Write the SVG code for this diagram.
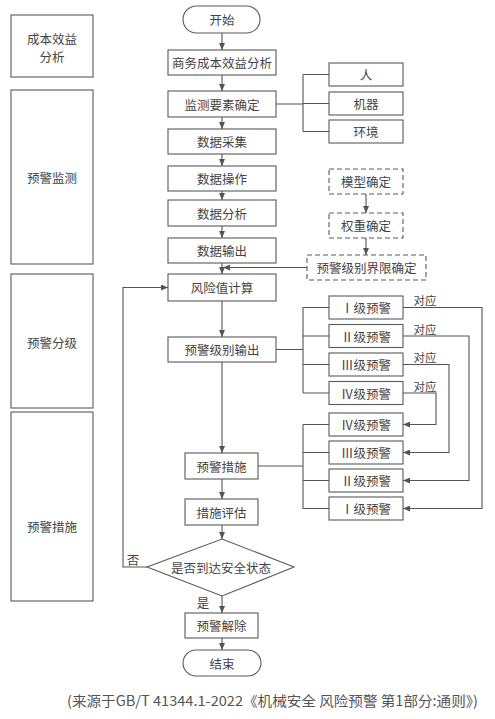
<svg xmlns="http://www.w3.org/2000/svg" width="495" height="719" viewBox="0 0 495 719">
<defs>
<marker id="arr" markerUnits="userSpaceOnUse" markerWidth="8" markerHeight="6" refX="7" refY="3" orient="auto">
<path d="M0,0 L7,3 L0,6 Z" fill="#555"/>
</marker>
<style>
rect, polygon { fill: #fff; stroke: #5a5a5a; stroke-width: 1.1; }
.dash { stroke-dasharray: 5 3; }
text { font-family: "Noto Sans CJK SC", "Noto Sans", sans-serif; font-size: 12.5px; fill: #444; text-anchor: middle; dominant-baseline: central; }
.small { font-size: 11.5px; }
.cap { font-size: 14px; text-anchor: start; fill: #555; }
#connectors path, #connectors line { fill: none; stroke: #555; stroke-width: 1.1; }
.a { marker-end: url(#arr); }
</style>
</defs>
<rect x="0" y="0" width="495" height="719" style="fill:#fff;stroke:none"/>

<g id="stage-cost"><rect x="11" y="15" width="82" height="62"/><text x="52" y="38">成本效益</text><text x="52" y="56">分析</text></g>
<g id="stage-monitor"><rect x="11" y="90" width="82" height="174"/><text x="52" y="177">预警监测</text></g>
<g id="stage-grade"><rect x="11" y="274" width="82" height="134"/><text x="52" y="342">预警分级</text></g>
<g id="stage-measure"><rect x="11" y="412" width="82" height="189"/><text x="52" y="526">预警措施</text></g>

<g id="start"><rect x="183" y="6" width="77" height="27" rx="13.5"/><text x="222" y="19.5">开始</text></g>
<g id="cba"><rect x="168" y="50" width="108" height="25"/><text x="222" y="62.5">商务成本效益分析</text></g>
<g id="elements"><rect x="168" y="91" width="108" height="26"/><text x="222" y="104">监测要素确定</text></g>
<g id="person"><rect x="329" y="63" width="74" height="23"/><text x="366" y="74.5">人</text></g>
<g id="machine"><rect x="329" y="92" width="74" height="23"/><text x="366" y="103.5">机器</text></g>
<g id="env"><rect x="329" y="120" width="74" height="23"/><text x="366" y="131.5">环境</text></g>
<g id="collect"><rect x="168" y="129" width="108" height="25"/><text x="222" y="141.5">数据采集</text></g>
<g id="operate"><rect x="168" y="166" width="108" height="25"/><text x="222" y="178.5">数据操作</text></g>
<g id="analyze"><rect x="168" y="200" width="108" height="26"/><text x="222" y="213">数据分析</text></g>
<g id="output"><rect x="168" y="238" width="108" height="25"/><text x="222" y="250.5">数据输出</text></g>
<g id="model"><rect class="dash" x="329" y="169" width="74" height="25"/><text x="366" y="181.5">模型确定</text></g>
<g id="weight"><rect class="dash" x="329" y="213" width="74" height="25"/><text x="366" y="225.5">权重确定</text></g>
<g id="threshold"><rect class="dash" x="307" y="255" width="119" height="25"/><text x="366.5" y="267.5">预警级别界限确定</text></g>
<g id="risk"><rect x="168" y="274" width="108" height="27"/><text x="222" y="287.5">风险值计算</text></g>
<g id="level-out"><rect x="168" y="337" width="108" height="25"/><text x="222" y="349.5">预警级别输出</text></g>
<g id="w1"><rect x="329" y="296" width="74" height="23"/><text x="366" y="307.5">Ⅰ级预警</text></g>
<g id="w2"><rect x="329" y="324.5" width="74" height="23"/><text x="366" y="336">Ⅱ级预警</text></g>
<g id="w3"><rect x="329" y="353" width="74" height="23"/><text x="366" y="364.5">Ⅲ级预警</text></g>
<g id="w4"><rect x="329" y="381.5" width="74" height="23"/><text x="366" y="393">Ⅳ级预警</text></g>
<g id="m4"><rect x="329" y="413" width="74" height="23"/><text x="366" y="424.5">Ⅳ级预警</text></g>
<g id="m3"><rect x="329" y="441" width="74" height="23"/><text x="366" y="452.5">Ⅲ级预警</text></g>
<g id="m2"><rect x="329" y="469" width="74" height="23"/><text x="366" y="480.5">Ⅱ级预警</text></g>
<g id="m1"><rect x="329" y="497" width="74" height="23"/><text x="366" y="508.5">Ⅰ级预警</text></g>
<g id="measures"><rect x="185" y="453" width="73" height="26"/><text x="221.5" y="466">预警措施</text></g>
<g id="evaluate"><rect x="185" y="499" width="73" height="26"/><text x="221.5" y="512">措施评估</text></g>
<g id="safe"><polygon points="222,539 294,567 222,596 147,567"/><text x="221" y="567">是否到达安全状态</text></g>
<g id="release"><rect x="185" y="613" width="73" height="25"/><text x="221.5" y="625.5">预警解除</text></g>
<g id="end"><rect x="183" y="650" width="78" height="26" rx="13"/><text x="222" y="663">结束</text></g>

<g id="connectors">
<line class="a" x1="222" y1="33" x2="222" y2="50"/>
<line class="a" x1="222" y1="75" x2="222" y2="91"/>
<line class="a" x1="222" y1="117" x2="222" y2="129"/>
<line class="a" x1="222" y1="154" x2="222" y2="166"/>
<line class="a" x1="222" y1="191" x2="222" y2="200"/>
<line class="a" x1="222" y1="226" x2="222" y2="238"/>
<line class="a" x1="222" y1="263" x2="222" y2="274"/>
<line class="a" x1="366" y1="194" x2="366" y2="213"/>
<line class="a" x1="366" y1="238" x2="366" y2="255"/>
<line class="a" x1="307" y1="267.5" x2="223" y2="267.5"/>
<path d="M276,104 H303 M303,74.5 V131.5 M303,74.5 H329 M303,103.5 H329 M303,131.5 H329"/>
<line class="a" x1="222" y1="301" x2="222" y2="337"/>
<path d="M276,349.5 H303 M303,307.5 V393 M303,307.5 H329 M303,336 H329 M303,364.5 H329 M303,393 H329"/>
<line class="a" x1="222" y1="362" x2="222" y2="453"/>
<path d="M258,466 H303 M303,424.5 V508.5 M303,424.5 H329 M303,452.5 H329 M303,480.5 H329 M303,508.5 H329"/>
<path class="a" d="M403,307.5 H482 V508.5 H403"/>
<path class="a" d="M403,336 H469 V480.5 H403"/>
<path class="a" d="M403,364.5 H449 V452.5 H403"/>
<path class="a" d="M403,393 H436 V424.5 H403"/>
<line class="a" x1="222" y1="479" x2="222" y2="499"/>
<line class="a" x1="222" y1="525" x2="222" y2="539"/>
<line class="a" x1="222" y1="596" x2="222" y2="613"/>
<line class="a" x1="222" y1="638" x2="222" y2="650"/>
<path class="a" d="M147,567 H123 V287.5 H168"/>
</g>
<g id="labels">
<text class="small" x="425" y="300">对应</text>
<text class="small" x="425" y="328.5">对应</text>
<text class="small" x="425" y="357">对应</text>
<text class="small" x="425" y="385.5">对应</text>
<text x="133" y="559">否</text>
<text x="203" y="602">是</text>
</g>
<text class="cap" x="67" y="700" textLength="411" lengthAdjust="spacingAndGlyphs">(来源于GB/T 41344.1-2022《机械安全 风险预警 第1部分:通则》)</text>
</svg>
